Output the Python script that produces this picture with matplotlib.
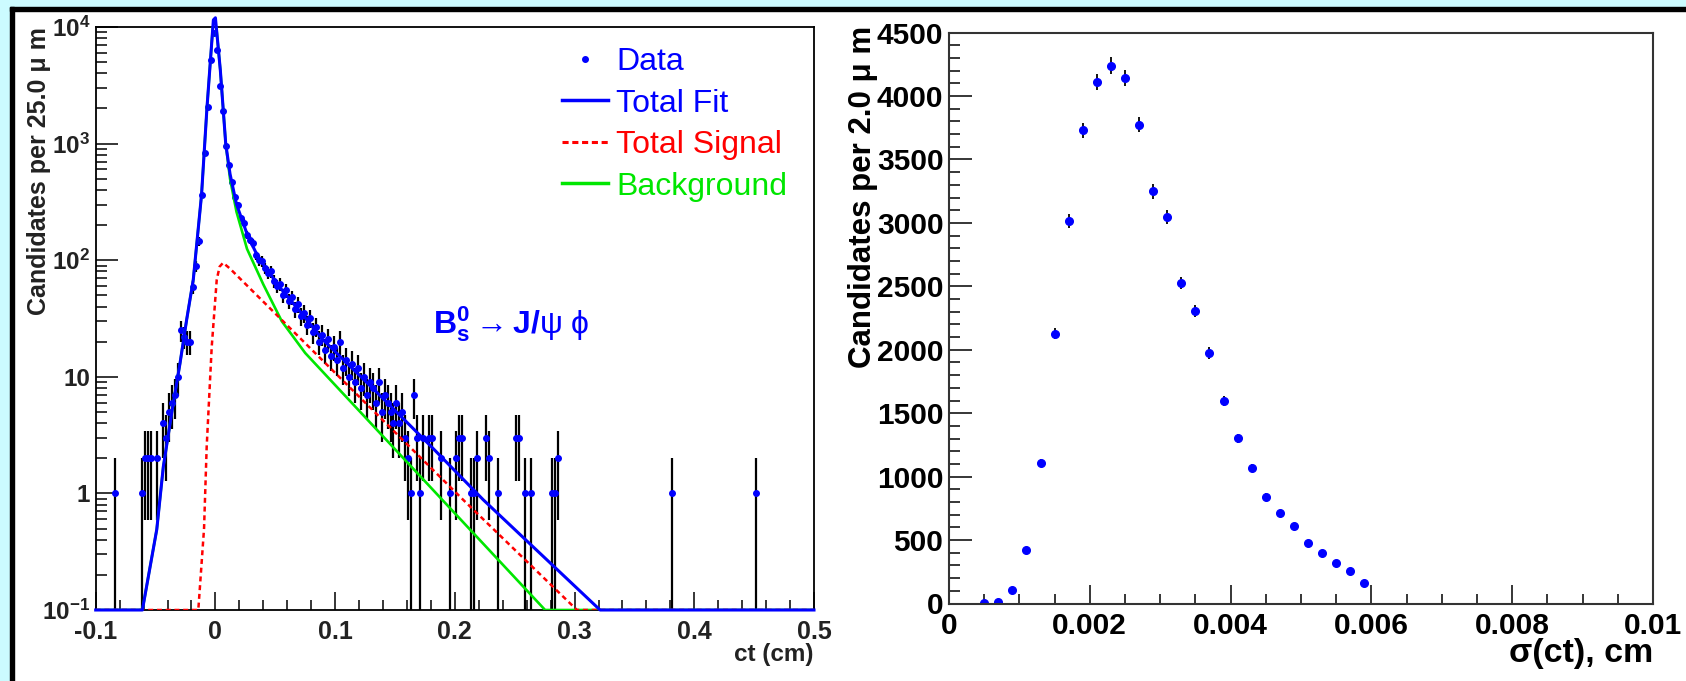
import numpy as np
import matplotlib.pyplot as plt
from matplotlib.lines import Line2D
from matplotlib.patches import Rectangle
from matplotlib.ticker import FixedLocator, MultipleLocator, LogLocator, NullFormatter

plt.rcParams['font.family'] = ['Liberation Sans', 'DejaVu Sans']
plt.rcParams['mathtext.fontset'] = 'custom'
plt.rcParams['mathtext.rm'] = 'Liberation Sans'
plt.rcParams['mathtext.bf'] = 'Liberation Sans:bold'
plt.rcParams['mathtext.it'] = 'Liberation Sans:italic'

W, H = 1686, 681

# ---- left panel: ct distribution, 25 um bins starting at -0.1 cm
ct_lo = -0.1
ct_bin = 0.0025
ct_k = [6, 15, 16, 17, 18, 20, 22, 23, 24, 25, 26, 27, 28, 29, 30, 31, 32, 33, 34, 35,
        36, 37, 38, 39, 40, 41, 42, 43, 44, 45, 46, 47, 48, 49, 50, 51, 52, 53, 54, 55,
        56, 57, 58, 59, 60, 61, 62, 63, 64, 65, 66, 67, 68, 69, 70, 71, 72, 73, 74, 75,
        76, 77, 78, 79, 80, 81, 82, 83, 84, 85, 86, 87, 88, 89, 90, 91, 92, 93, 94, 95,
        96, 97, 98, 99, 100, 101, 102, 103, 104, 105, 106, 107, 108, 109, 111, 112, 115, 118, 120, 121,
        122, 125, 126, 127, 130, 131, 134, 140, 141, 143, 145, 152, 153, 154, 192, 220]
ct_n = [1, 1, 2, 2, 2, 2, 4, 3, 5, 6, 7, 10, 25, 22, 20, 20, 59, 89, 145, 363,
        830, 2040, 5250, 8900, 6300, 3100, 1900, 950, 650, 470, 350, 300, 230, 210, 165, 150, 140, 110, 100, 98,
        85, 78, 80, 66, 60, 62, 50, 55, 45, 48, 38, 42, 33, 35, 28, 32, 24, 27, 20, 23,
        17, 21, 15, 18, 14, 20, 12, 14, 10, 13, 9, 12, 8, 10, 7, 9, 8, 6, 9, 5,
        7, 6, 5, 4, 6, 4, 5, 3, 2, 1, 7, 3, 1, 3, 3, 3, 2, 1, 2, 3,
        3, 1, 1, 2, 3, 2, 1, 3, 3, 1, 1, 1, 1, 2, 1, 1]

# fit curves
fit_ct = [-0.1, -0.061, -0.049, -0.0435, -0.0365, -0.0296, -0.024, -0.0185, -0.0116, -0.0071,
          -0.0017, 0.0, 0.0041, 0.0086, 0.0122, 0.0176, 0.0266, 0.0355, 0.0535, 0.0715,
          0.0894, 0.134, 0.179, 0.2238, 0.3213, 0.5]
fit_y = [0.1, 0.1, 0.49, 1.7, 4.9, 13, 31, 68, 363, 2000,
         11500, 12000, 4270, 1000, 550, 302, 166, 107, 59, 35.5,
         21, 7.5, 2.6, 0.88, 0.1, 0.1]
sig_ct = [-0.1, -0.0143, -0.0095, -0.0073, -0.0031, 0.0011, 0.0035, 0.0064, 0.012, 0.207, 0.302, 0.5]
sig_y = [0.1, 0.1, 0.5, 2.5, 18, 68, 88, 95, 85, 0.88, 0.1, 0.1]
bkg_ct = [-0.1, -0.061, -0.049, -0.0435, -0.0365, -0.0296, -0.024, -0.0185, -0.0116, -0.0071,
          -0.0017, 0.0, 0.0041, 0.0086, 0.0122, 0.0176, 0.0264, 0.040, 0.0554, 0.075,
          0.2754, 0.5]
bkg_y = [0.1, 0.1, 0.49, 1.7, 4.9, 13, 31, 68, 363, 2000,
         11500, 12000, 4270, 1000, 500, 260, 125, 62, 30, 16,
         0.1, 0.1]

legend_labels = ['Data', 'Total Fit', 'Total Signal', 'Background']

# ---- right panel: sigma(ct), 2 um bins
sct_x = [0.0005, 0.0007, 0.0009, 0.0011, 0.0013, 0.0015, 0.0017, 0.0019, 0.0021, 0.0023,
         0.0025, 0.0027, 0.0029, 0.0031, 0.0033, 0.0035, 0.0037, 0.0039, 0.0041, 0.0043,
         0.0045, 0.0047, 0.0049, 0.0051, 0.0053, 0.0055, 0.0057, 0.0059]
sct_n = [3, 10, 106, 421, 1107, 2128, 3016, 3729, 4110, 4240,
         4140, 3775, 3249, 3043, 2526, 2303, 1974, 1597, 1302, 1066,
         840, 713, 610, 473, 398, 319, 260, 158]

BLUE = '#0000ff'
RED = '#ff0000'
GREEN = '#00e600'
CYAN = '#ccfbff'

fig = plt.figure(figsize=(W / 100, H / 100), dpi=100)
fig.patch.set_facecolor('white')
# cyan frame with black edge on top and left
fig.patches.append(Rectangle((0, 0), 10 / W, 1, transform=fig.transFigure, color=CYAN, zorder=0))
fig.patches.append(Rectangle((0, 1 - 7 / H), 1, 7 / H, transform=fig.transFigure, color=CYAN, zorder=0))
fig.patches.append(Rectangle((10 / W, 0), 4 / W, 1 - 7 / H, transform=fig.transFigure, color='black', zorder=0))
fig.patches.append(Rectangle((10 / W, 1 - 11 / H), 1, 4 / H, transform=fig.transFigure, color='black', zorder=0))

ax1 = fig.add_axes([95.7 / W, 1 - 610 / H, (814 - 95.7) / W, (610 - 27) / H])
ax2 = fig.add_axes([949 / W, 1 - 603.5 / H, (1653 - 949) / W, (603.5 - 32.6) / H])

# left: data with poisson errors
x = ct_lo + (np.array(ct_k) + 0.5) * ct_bin
n = np.array(ct_n, dtype=float)
err = np.sqrt(n)
low = np.minimum(err, n - 0.01)
ax1.errorbar(x, n, yerr=[low, err], xerr=ct_bin / 2, fmt='o', ms=4, mfc=BLUE, mec=BLUE,
             ecolor='black', elinewidth=1.6, capsize=0, zorder=2)
ax1.plot(bkg_ct, bkg_y, color=GREEN, lw=1.9, zorder=3)
ax1.plot(sig_ct, sig_y, color=RED, lw=1.8, ls=(0, (2.0, 1.5)), zorder=3)
ax1.plot(fit_ct, fit_y, color=BLUE, lw=2.2, zorder=4, clip_on=False)

ax1.set_yscale('log')
ax1.set_xlim(-0.1, 0.5)
ax1.set_ylim(0.1, 1e4)
ax1.xaxis.set_major_locator(FixedLocator([-0.1, 0, 0.1, 0.2, 0.3, 0.4, 0.5]))
ax1.xaxis.set_minor_locator(MultipleLocator(0.02))
ax1.set_xticklabels(['-0.1', '0', '0.1', '0.2', '0.3', '0.4', '0.5'], fontweight='bold')
ax1.yaxis.set_major_locator(FixedLocator([0.1, 1, 10, 100, 1000, 10000]))
ax1.yaxis.set_minor_locator(LogLocator(base=10, subs=np.arange(2, 10)))
ax1.yaxis.set_minor_formatter(NullFormatter())
ax1.set_yticklabels([r'$\mathbf{10^{-1}}$', '1', '10', r'$\mathbf{10^{2}}$',
                     r'$\mathbf{10^{3}}$', r'$\mathbf{10^{4}}$'], fontweight='bold')
ax1.tick_params(which='both', direction='in', top=False, right=False, width=1.1,
                labelcolor='#222222', pad=4)
ax1.tick_params(axis='x', which='major', length=13, pad=7, labelsize=18)
ax1.tick_params(axis='x', which='minor', length=7)
ax1.tick_params(axis='y', which='major', length=16, labelsize=17.5)
ax1.tick_params(axis='y', which='minor', length=8)
for s in ax1.spines.values():
    s.set_linewidth(1.3)

ax1.set_ylabel('Candidates per 25.0 \u03bc m', fontsize=18, fontweight='bold', loc='top', color='#222222')
ax1.yaxis.set_label_coords(-0.079, 1.0)
ax1.yaxis.label.set_va('center')
ax1.set_xlabel('ct (cm)', fontsize=17.5, fontweight='bold', loc='right', color='#222222')
ax1.xaxis.set_label_coords(1.0, -0.0755)
ax1.xaxis.label.set_va('center')

ax1.text(433 / W, 1 - 324 / H, r'$\mathbf{B_{s}^{0}} \rightarrow \mathbf{J/}\mathrm{\psi}\ \mathrm{\phi}$',
         color=BLUE, fontsize=23, transform=fig.transFigure, ha='left', va='center')

handles = [Line2D([], [], ls='none', marker='o', ms=4, color=BLUE),
           Line2D([], [], color=BLUE, lw=2.5),
           Line2D([], [], color=RED, lw=2.2, ls=(0, (2.0, 1.2))),
           Line2D([], [], color=GREEN, lw=2.5)]
ax1.legend(handles, legend_labels, loc='upper left', bbox_to_anchor=(562 / W, 1 - 47 / H),
           bbox_transform=fig.transFigure, frameon=False, fontsize=23, handlelength=1.45,
           handletextpad=0.25, labelspacing=0.36, borderpad=0, borderaxespad=0,
           labelcolor=[BLUE, BLUE, RED, GREEN], numpoints=1)

# right: sigma(ct)
sn = np.array(sct_n, dtype=float)
ax2.errorbar(sct_x, sn, yerr=np.sqrt(sn), fmt='o', ms=5.5, mfc=BLUE, mec=BLUE,
             ecolor='black', elinewidth=1.3, capsize=0)
ax2.set_xlim(0, 0.01)
ax2.set_ylim(0, 4500)
ax2.xaxis.set_major_locator(FixedLocator([0, 0.002, 0.004, 0.006, 0.008, 0.01]))
ax2.xaxis.set_minor_locator(MultipleLocator(0.0005))
ax2.set_xticklabels(['0', '0.002', '0.004', '0.006', '0.008', '0.01'], fontweight='bold')
ax2.yaxis.set_minor_locator(MultipleLocator(100))
ax2.set_yticks(np.arange(0, 4501, 500))
ax2.set_yticklabels([str(v) for v in range(0, 4501, 500)], fontweight='bold')
ax2.tick_params(which='both', direction='in', top=False, right=False, width=1.1,
                labelsize=21.5, pad=4)
ax2.tick_params(axis='x', which='major', length=14, pad=6)
ax2.tick_params(axis='x', which='minor', length=7)
ax2.tick_params(axis='y', which='major', length=16.5)
ax2.tick_params(axis='y', which='minor', length=8)
for s in ax2.spines.values():
    s.set_linewidth(1.5)
    s.set_color('#333333')

ax2.set_ylabel('Candidates per 2.0 \u03bc m', fontsize=22.5, fontweight='bold', loc='top')
ax2.yaxis.set_label_coords(-0.122, 1.012)
ax2.yaxis.label.set_va('center')
ax2.set_xlabel('\u03c3(ct), cm', fontsize=24.5, fontweight='bold', loc='right')
ax2.xaxis.set_label_coords(1.0, -0.088)
ax2.xaxis.label.set_va('center')

fig.savefig('out.png', dpi=100)
